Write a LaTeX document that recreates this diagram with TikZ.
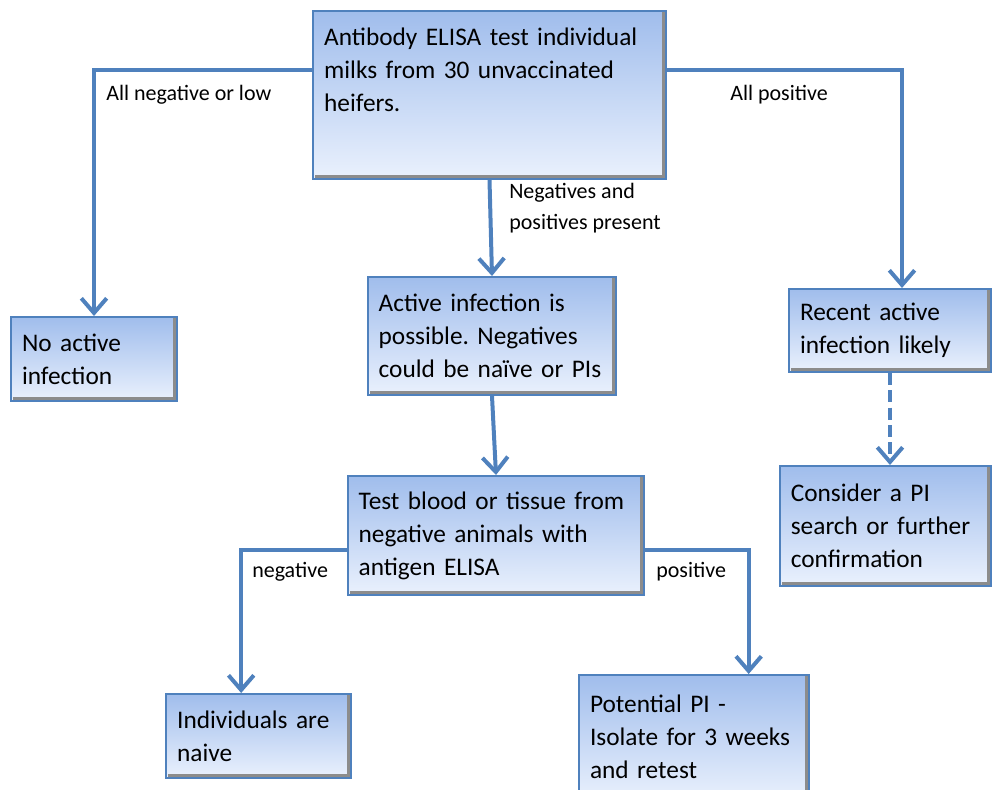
\documentclass[tikz,border=0pt]{standalone}
\usepackage{fontspec}
\setmainfont{Carlito}
\usetikzlibrary{arrows.meta, positioning}

\definecolor{flowblue}{RGB}{79,129,189}
\definecolor{boxtop}{RGB}{160,189,236}
\definecolor{boxbot}{RGB}{234,241,253}

\begin{document}
\frenchspacing
\begin{tikzpicture}[
    x=0.75pt, y=-0.75pt,
    flow/.style={draw=flowblue, line width=3pt, -{Straight Barb[length=11pt,width=19pt,line width=3pt]}},
    box/.style={rectangle, anchor=north west, draw=flowblue, line width=1.5pt,
        top color=boxtop, bottom color=boxbot, align=left,
        font=\fontsize{19}{24.75}\selectfont, inner xsep=8pt, inner ysep=6pt,
        path picture={\draw[black!45, line width=2.5pt]
            ([shift={(-1.5pt,1.5pt)}]path picture bounding box.north east) --
            ([shift={(-1.5pt,1.5pt)}]path picture bounding box.south east) --
            ([shift={(1.5pt,1.5pt)}]path picture bounding box.south west);}},
    lbl/.style={font=\fontsize{16.5}{23}\selectfont, align=left, inner sep=0pt}
]
\useasboundingbox (0,0) rectangle (992,789);

% Boxes
\node[box, minimum width=264.75pt, minimum height=126pt, text width=248pt,
      inner ysep=8pt, text depth=88pt] (elisa) at (312,10)
    {Antibody ELISA test individual\\milks from 30 unvaccinated\\heifers.};
\node[box, minimum width=124.5pt, minimum height=63pt, text width=108pt] (noinf) at (10,316)
    {No active\\infection};
\node[box, minimum width=186pt, minimum height=88.5pt, text width=170pt] (active) at (367,276)
    {Active infection is\\possible. Negatives\\could be na\"{\i}ve or PIs};
\node[box, minimum width=151.5pt, minimum height=62.25pt, text width=135pt] (recent) at (788,288)
    {Recent active\\infection likely};
\node[box, minimum width=158.25pt, minimum height=90pt, text width=142pt] (consider) at (779,465)
    {Consider a PI\\search or further\\confirmation};
\node[box, minimum width=222pt, minimum height=89.25pt, text width=206pt] (antigen) at (347,475)
    {Test blood or tissue from\\negative animals with\\antigen ELISA};
\node[box, minimum width=138.75pt, minimum height=63pt, text width=122pt] (naive) at (165,693)
    {Individuals are\\naive};
\node[box, minimum width=172.5pt, minimum height=94.5pt, text width=156pt,
      inner ysep=7pt, text depth=51pt] (potpi) at (578,674)
    {Potential PI -\\Isolate for 3 weeks\\and retest};

% Labels
\node[lbl, anchor=west] (lneg) at (106,95) {All negative or low};
\node[lbl, anchor=west] (lpos) at (730,95) {All positive};
\node[lbl, anchor=west] (lmix) at (509,208) {Negatives and\\positives present};
\node[lbl, anchor=west] (lnegb) at (252,572) {negative};
\node[lbl, anchor=west] (lposb) at (656,572) {positive};

% Connectors
\draw[flow] (elisa.north west) ++(0,60) -| (noinf.north);
\draw[flow] (elisa.north east) ++(0,60) -| ([xshift=9pt]recent.north);
\draw[flow] (elisa.south) -- (active.north);
\draw[flow] (active.south) -- (antigen.north);
\draw[flow] (antigen.west) ++(0,14) -| ([xshift=-13pt]naive.north);
\draw[flow] (antigen.east) ++(0,14) -| ([xshift=41pt]potpi.north);
\draw[flow, dashed, dash pattern=on 9pt off 4pt] (recent.south) -- (recent.south |- consider.north);

\end{tikzpicture}
\end{document}
